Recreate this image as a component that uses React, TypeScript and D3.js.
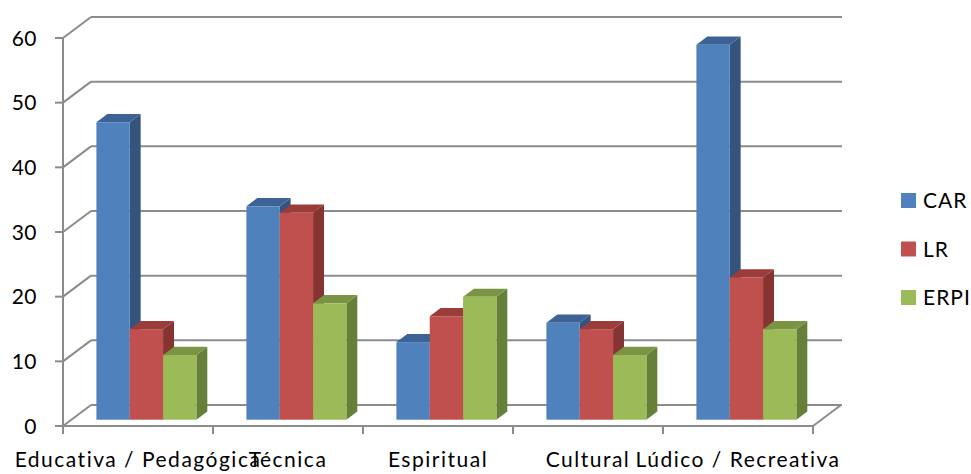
import React from "react";
import * as d3 from "d3";

const categories = ["Educativa / Pedagógica", "Técnica", "Espiritual", "Cultural", "Lúdico / Recreativa"];
const seriesNames = ["CAR", "LR", "ERPI"];
const CAR = [46, 33, 12, 15, 58];
const LR = [14, 32, 16, 14, 22];
const ERPI = [10, 18, 19, 10, 14];
const yTicks = [0, 10, 20, 30, 40, 50, 60];

const seriesValues = [CAR, LR, ERPI];
const colors = [
  { front: "#4F81BD", side: "#34537D", top: "#3D6396" },
  { front: "#C0504D", side: "#853432", top: "#9A3D3A" },
  { front: "#9BBB59", side: "#66803A", top: "#7A9443" },
];

const W = 971;
const H = 474;
const DX = 28; // full depth offset
const DY = -21;
const FONT = "Lato, 'Open Sans', sans-serif";

export default function App() {
  const x = d3.scaleBand<string>().domain(categories).range([63, 813]).padding(0);
  const y = d3.scaleLinear().domain([0, 60]).range([426, 38]);
  const inner = d3.scaleBand<string>().domain(seriesNames).range([0, x.step()]).paddingInner(0).paddingOuter(0.75);
  const gridColor = "#8C8C8C";

  const d0 = 0.3; // bar front depth
  const d1 = 0.69; // bar back depth
  const [x0, x1] = x.range();

  return (
    <svg width={W} height={H} style={{ display: "block", position: "absolute", left: 0, top: 0 }}>
      <rect width={W} height={H} fill="#fff" />
      {/* back wall gridlines and left diagonals */}
      {yTicks.map((t) => (
        <g key={t}>
          <line x1={x0 + DX} x2={x1 + DX + 1} y1={y(t) + DY} y2={y(t) + DY} stroke={gridColor} strokeWidth={2} />
          <line x1={x0} y1={y(t)} x2={x0 + DX} y2={y(t) + DY} stroke={gridColor} strokeWidth={2} />
          <line x1={x0 - 8} x2={x0} y1={y(t)} y2={y(t)} stroke={gridColor} strokeWidth={2} />
          <text x={37} y={y(t)} dy="0.36em" textAnchor="end" fontFamily={FONT} fontSize={21} letterSpacing={0.5} fill="#000">
            {t}
          </text>
        </g>
      ))}
      {/* front axis */}
      <line x1={x0} x2={x0} y1={y(60)} y2={y(0)} stroke={gridColor} strokeWidth={2} />
      {/* floor */}
      <line x1={x0} x2={x1} y1={y(0)} y2={y(0)} stroke={gridColor} strokeWidth={2} />
      <line x1={x1} y1={y(0)} x2={x1 + DX} y2={y(0) + DY} stroke={gridColor} strokeWidth={2} />
      {/* category ticks */}
      {categories.map((c) => (
        <line key={c} x1={x(c)!} x2={x(c)!} y1={y(0)} y2={y(0) + 8} stroke={gridColor} strokeWidth={2} />
      ))}
      <line x1={x1} x2={x1} y1={y(0)} y2={y(0) + 8} stroke={gridColor} strokeWidth={2} />
      {/* bars */}
      {categories.map((c, ci) => (
        <g key={c}>
          {seriesNames.map((s, si) => {
            const v = seriesValues[si][ci];
            const bx = x(c)! + inner(s)! + DX * d0;
            const bw = inner.bandwidth();
            const yt = y(v) + DY * d0;
            const yb = y(0) + DY * d0;
            const ox = DX * (d1 - d0);
            const oy = DY * (d1 - d0);
            const col = colors[si];
            return (
              <g key={s}>
                <polygon
                  points={`${bx + bw},${yt} ${bx + bw + ox},${yt + oy} ${bx + bw + ox},${yb + oy} ${bx + bw},${yb}`}
                  fill={col.side}
                />
                <polygon
                  points={`${bx},${yt} ${bx + bw},${yt} ${bx + bw + ox},${yt + oy} ${bx + ox},${yt + oy}`}
                  fill={col.top}
                />
                <rect x={bx} y={yt} width={bw} height={yb - yt} fill={col.front} />
              </g>
            );
          })}
        </g>
      ))}
      {/* category labels */}
      {categories.map((c) => (
        <text
          key={c}
          x={x(c)! + x.bandwidth() / 2}
          y={467}
          textAnchor="middle"
          fontFamily={FONT}
          fontSize={21}
          letterSpacing={1.5}
          fill="#000"
        >
          {c}
        </text>
      ))}
      {/* legend */}
      {seriesNames.map((s, i) => (
        <g key={s} transform={`translate(901, ${193 + i * 48.5})`}>
          <rect width={15} height={15} fill={colors[i].front} />
          <text x={22} y={15} fontFamily={FONT} fontSize={21} letterSpacing={1} fill="#000">
            {s}
          </text>
        </g>
      ))}
    </svg>
  );
}
